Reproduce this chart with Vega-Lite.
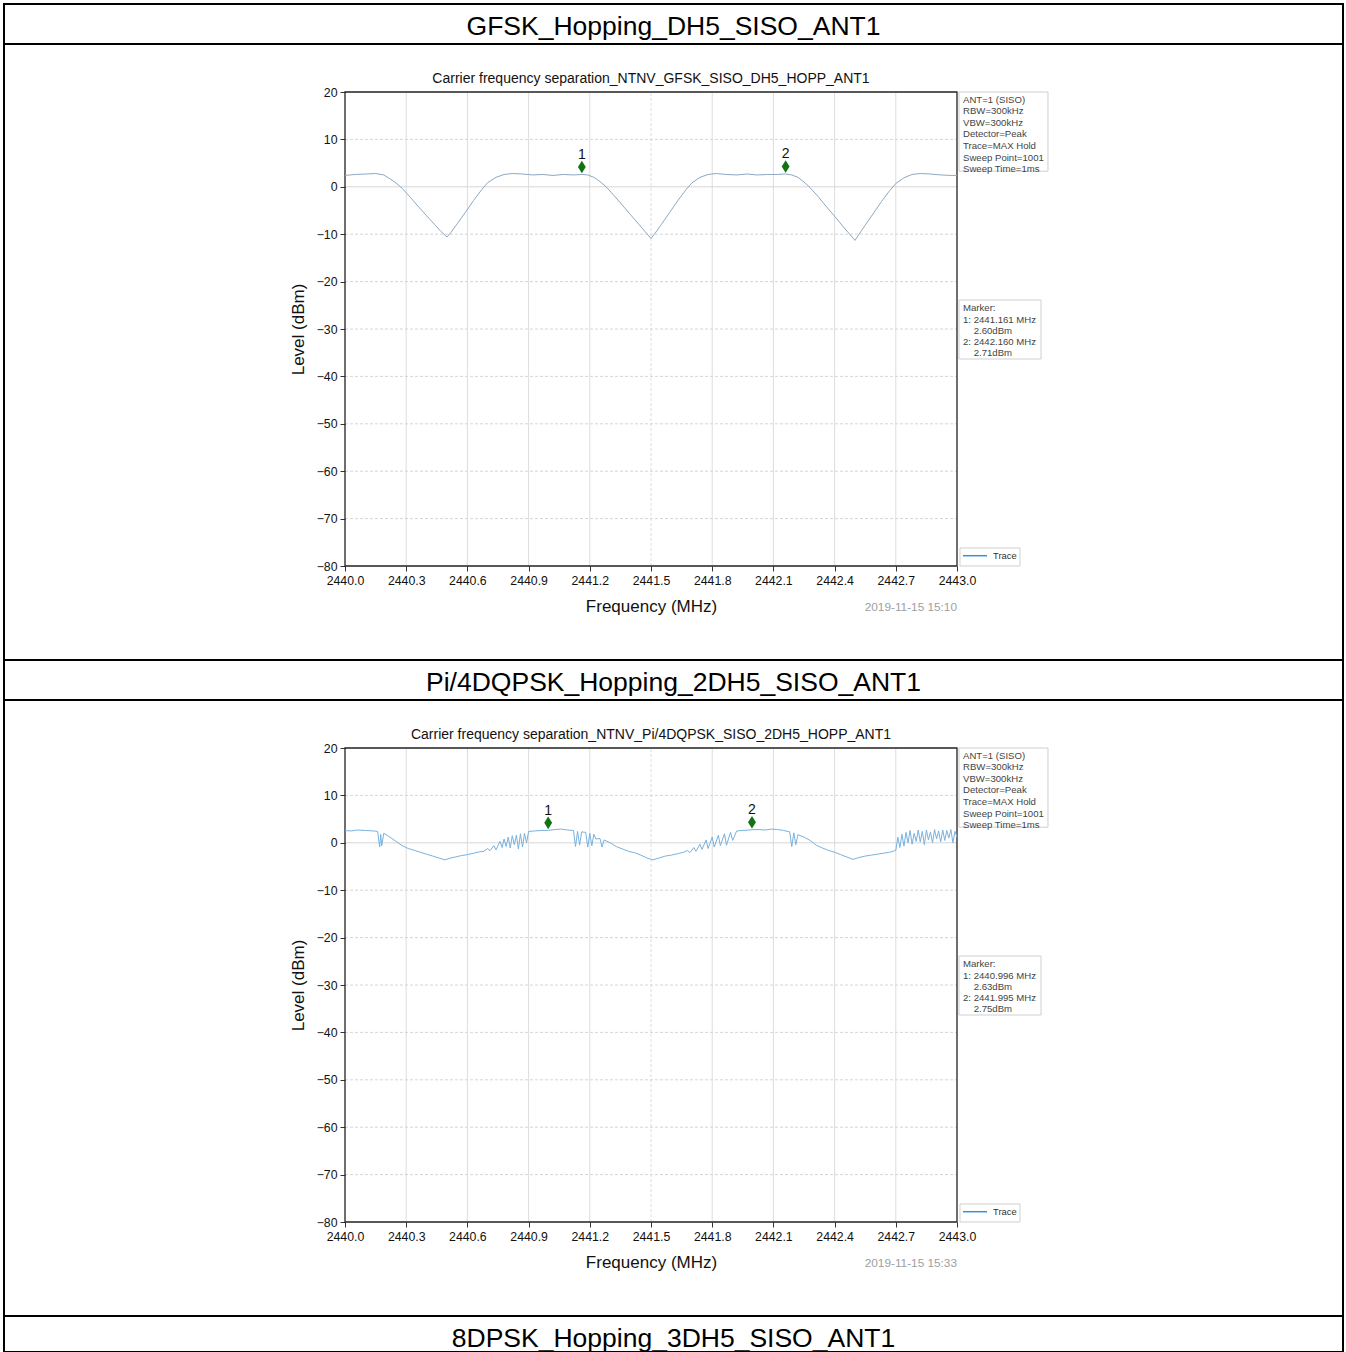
{
  "$schema": "https://vega.github.io/schema/vega-lite/v6.json",
  "background": "white",
  "padding": {"left": 3, "top": 3, "right": 0, "bottom": 0},
  "spacing": 0,
  "bounds": "flush",
  "config": {"view": {"stroke": null}, "font": "Liberation Sans"},
  "datasets": {
    "trace1": [
      {"f":2440.00,"level":2.4},{"f":2440.05,"level":2.6},{"f":2440.10,"level":2.7},{"f":2440.15,"level":2.8},{"f":2440.19,"level":2.5},
      {"f":2440.22,"level":1.7},{"f":2440.25,"level":0.8},{"f":2440.28,"level":-0.3},{"f":2440.32,"level":-2.2},{"f":2440.36,"level":-4.2},
      {"f":2440.40,"level":-6.1},{"f":2440.44,"level":-8.0},{"f":2440.47,"level":-9.4},{"f":2440.50,"level":-10.6},{"f":2440.52,"level":-9.6},
      {"f":2440.55,"level":-7.8},{"f":2440.59,"level":-5.4},{"f":2440.63,"level":-2.9},{"f":2440.67,"level":-0.6},{"f":2440.70,"level":0.9},
      {"f":2440.74,"level":2.0},{"f":2440.78,"level":2.6},{"f":2440.82,"level":2.8},{"f":2440.87,"level":2.7},{"f":2440.92,"level":2.5},
      {"f":2440.97,"level":2.6},{"f":2441.02,"level":2.4},{"f":2441.07,"level":2.6},{"f":2441.12,"level":2.5},{"f":2441.161,"level":2.6},
      {"f":2441.19,"level":2.5},{"f":2441.22,"level":2.0},{"f":2441.25,"level":1.1},{"f":2441.28,"level":0.0},{"f":2441.32,"level":-1.9},
      {"f":2441.36,"level":-3.9},{"f":2441.40,"level":-5.9},{"f":2441.44,"level":-7.9},{"f":2441.47,"level":-9.4},{"f":2441.50,"level":-10.9},
      {"f":2441.52,"level":-9.8},{"f":2441.55,"level":-8.0},{"f":2441.59,"level":-5.5},{"f":2441.63,"level":-3.0},{"f":2441.67,"level":-0.7},
      {"f":2441.70,"level":0.8},{"f":2441.74,"level":2.0},{"f":2441.78,"level":2.6},{"f":2441.82,"level":2.8},{"f":2441.87,"level":2.6},
      {"f":2441.92,"level":2.5},{"f":2441.97,"level":2.7},{"f":2442.02,"level":2.5},{"f":2442.07,"level":2.6},{"f":2442.12,"level":2.6},
      {"f":2442.16,"level":2.71},{"f":2442.19,"level":2.5},{"f":2442.22,"level":2.0},{"f":2442.25,"level":1.0},{"f":2442.28,"level":-0.2},
      {"f":2442.32,"level":-2.1},{"f":2442.36,"level":-4.2},{"f":2442.40,"level":-6.2},{"f":2442.44,"level":-8.3},{"f":2442.47,"level":-9.8},
      {"f":2442.50,"level":-11.3},{"f":2442.52,"level":-10.0},{"f":2442.55,"level":-8.1},{"f":2442.59,"level":-5.6},{"f":2442.63,"level":-3.1},
      {"f":2442.67,"level":-0.8},{"f":2442.70,"level":0.7},{"f":2442.74,"level":1.9},{"f":2442.78,"level":2.6},{"f":2442.82,"level":2.8},
      {"f":2442.87,"level":2.7},{"f":2442.92,"level":2.5},{"f":2442.97,"level":2.4},{"f":2443.00,"level":2.4}
    ],
    "trace2": [
      {"f":2440.00,"level":2.6},{"f":2440.03,"level":2.5},{"f":2440.06,"level":2.7},{"f":2440.10,"level":2.6},{"f":2440.14,"level":2.5},
      {"f":2440.16,"level":2.4},{"f":2440.17,"level":-0.9},{"f":2440.175,"level":1.8},{"f":2440.18,"level":-0.6},{"f":2440.19,"level":2.0},
      {"f":2440.21,"level":1.5},{"f":2440.23,"level":0.9},{"f":2440.25,"level":0.3},{"f":2440.28,"level":-0.6},{"f":2440.31,"level":-1.2},
      {"f":2440.34,"level":-1.6},{"f":2440.37,"level":-2.0},{"f":2440.40,"level":-2.4},{"f":2440.43,"level":-2.8},{"f":2440.46,"level":-3.2},
      {"f":2440.49,"level":-3.6},{"f":2440.51,"level":-3.3},{"f":2440.54,"level":-3.0},{"f":2440.57,"level":-2.7},{"f":2440.60,"level":-2.5},
      {"f":2440.63,"level":-2.2},{"f":2440.66,"level":-1.9},{"f":2440.68,"level":-1.8},{"f":2440.70,"level":-1.2},{"f":2440.71,"level":-1.7},
      {"f":2440.73,"level":-0.6},{"f":2440.74,"level":-1.5},{"f":2440.76,"level":0.3},{"f":2440.77,"level":-1.0},{"f":2440.78,"level":0.8},
      {"f":2440.79,"level":-0.8},{"f":2440.80,"level":1.2},{"f":2440.81,"level":-1.1},{"f":2440.82,"level":1.5},{"f":2440.83,"level":-0.4},
      {"f":2440.84,"level":1.6},{"f":2440.85,"level":-1.3},{"f":2440.86,"level":1.9},{"f":2440.87,"level":-0.9},{"f":2440.88,"level":2.0},
      {"f":2440.89,"level":0.0},{"f":2440.90,"level":2.4},{"f":2440.93,"level":2.5},{"f":2440.96,"level":2.6},{"f":2440.996,"level":2.63},
      {"f":2441.03,"level":2.8},{"f":2441.06,"level":2.9},{"f":2441.09,"level":2.7},{"f":2441.12,"level":2.6},{"f":2441.13,"level":-0.8},
      {"f":2441.14,"level":2.4},{"f":2441.15,"level":-0.5},{"f":2441.16,"level":2.3},{"f":2441.18,"level":2.2},{"f":2441.19,"level":-0.9},
      {"f":2441.20,"level":2.0},{"f":2441.21,"level":-0.6},{"f":2441.22,"level":1.8},{"f":2441.23,"level":0.8},{"f":2441.25,"level":0.9},
      {"f":2441.26,"level":-0.9},{"f":2441.27,"level":0.6},{"f":2441.30,"level":0.0},{"f":2441.33,"level":-0.8},{"f":2441.36,"level":-1.3},
      {"f":2441.39,"level":-1.8},{"f":2441.42,"level":-2.1},{"f":2441.45,"level":-2.6},{"f":2441.48,"level":-3.2},{"f":2441.51,"level":-3.6},
      {"f":2441.54,"level":-3.2},{"f":2441.57,"level":-2.8},{"f":2441.60,"level":-2.6},{"f":2441.63,"level":-2.3},{"f":2441.66,"level":-2.0},
      {"f":2441.68,"level":-1.6},{"f":2441.69,"level":-2.1},{"f":2441.71,"level":-1.0},{"f":2441.72,"level":-1.8},{"f":2441.74,"level":-0.3},
      {"f":2441.75,"level":-1.4},{"f":2441.77,"level":0.6},{"f":2441.78,"level":-1.2},{"f":2441.80,"level":1.2},{"f":2441.81,"level":-0.9},
      {"f":2441.83,"level":1.6},{"f":2441.84,"level":-0.6},{"f":2441.86,"level":1.9},{"f":2441.87,"level":-0.5},{"f":2441.89,"level":2.2},
      {"f":2441.90,"level":0.5},{"f":2441.92,"level":2.5},{"f":2441.95,"level":2.6},{"f":2441.995,"level":2.75},{"f":2442.03,"level":2.8},
      {"f":2442.06,"level":2.7},{"f":2442.09,"level":2.9},{"f":2442.12,"level":2.8},{"f":2442.15,"level":2.6},{"f":2442.18,"level":2.3},
      {"f":2442.19,"level":-0.8},{"f":2442.20,"level":2.1},{"f":2442.21,"level":-0.4},{"f":2442.22,"level":1.7},{"f":2442.25,"level":1.2},
      {"f":2442.28,"level":0.5},{"f":2442.31,"level":-0.5},{"f":2442.34,"level":-1.1},{"f":2442.37,"level":-1.6},{"f":2442.40,"level":-2.0},
      {"f":2442.43,"level":-2.5},{"f":2442.46,"level":-3.0},{"f":2442.49,"level":-3.5},{"f":2442.52,"level":-3.1},{"f":2442.55,"level":-2.8},
      {"f":2442.58,"level":-2.6},{"f":2442.61,"level":-2.4},{"f":2442.64,"level":-2.2},{"f":2442.67,"level":-2.0},{"f":2442.70,"level":-1.6},
      {"f":2442.71,"level":1.2},{"f":2442.72,"level":-1.0},{"f":2442.73,"level":1.8},{"f":2442.74,"level":-0.7},{"f":2442.75,"level":2.2},
      {"f":2442.76,"level":0.0},{"f":2442.77,"level":2.6},{"f":2442.78,"level":-0.3},{"f":2442.79,"level":2.0},{"f":2442.80,"level":0.3},
      {"f":2442.81,"level":2.7},{"f":2442.82,"level":0.2},{"f":2442.83,"level":2.4},{"f":2442.84,"level":-0.4},{"f":2442.85,"level":2.7},
      {"f":2442.86,"level":0.6},{"f":2442.87,"level":2.3},{"f":2442.88,"level":0.0},{"f":2442.89,"level":2.8},{"f":2442.90,"level":0.8},
      {"f":2442.91,"level":2.5},{"f":2442.92,"level":0.2},{"f":2442.93,"level":2.7},{"f":2442.94,"level":0.5},{"f":2442.95,"level":2.6},
      {"f":2442.96,"level":1.0},{"f":2442.97,"level":2.8},{"f":2442.98,"level":0.0},{"f":2442.99,"level":2.4},{"f":2443.00,"level":1.2}
    ],
    "markers1": [{"n":"1","f":2441.161,"level":2.60},{"n":"2","f":2442.160,"level":2.71}],
    "markers2": [{"n":"1","f":2440.996,"level":2.63},{"n":"2","f":2441.995,"level":2.75}],
    "xgrid": [{"f":2440.3},{"f":2440.6},{"f":2440.9},{"f":2441.2},{"f":2441.5},{"f":2441.8},{"f":2442.1},{"f":2442.4},{"f":2442.7}],
    "ygrid": [{"v":-70},{"v":-60},{"v":-50},{"v":-40},{"v":-30},{"v":-20},{"v":-10},{"v":0},{"v":10}]
  },
  "vconcat": [
    {
      "width": 1339, "height": 40,
      "view": {"stroke": "black", "strokeWidth": 2},
      "data": {"values": [{"t": "GFSK_Hopping_DH5_SISO_ANT1"}]},
      "mark": {"type": "text", "fontSize": 26.5, "fill": "black", "baseline": "middle", "dy": 2.5},
      "encoding": {"text": {"field": "t"}}
    },
    {
      "width": 1339, "height": 616,
      "view": {"stroke": "black", "strokeWidth": 2},
      "layer": [
        {
          "data": {"name": "xgrid"},
          "mark": {"type": "rule", "stroke": "#dddddd", "strokeWidth": 1},
          "encoding": {
            "x": {"field": "f", "type": "quantitative"},
            "y": {"datum": -80, "type": "quantitative"},
            "y2": {"datum": 20},
            "strokeDash": {"condition": {"test": "datum.f == 2441.5", "value": [3, 2]}, "value": [1, 0]}
          }
        },
        {
          "data": {"name": "ygrid"},
          "mark": {"type": "rule", "stroke": "#d6d6d6", "strokeWidth": 1},
          "encoding": {
            "y": {"field": "v", "type": "quantitative"},
            "x": {"datum": 2440, "type": "quantitative"},
            "x2": {"datum": 2443},
            "strokeDash": {"condition": {"test": "datum.v == 0", "value": [1, 0]}, "value": [3, 2]}
          }
        },
        {
          "data": {"values": [{}]},
          "mark": {"type": "rect", "fillOpacity": 0, "stroke": "#222222", "strokeWidth": 1.3},
          "encoding": {
            "x": {"datum": 2440, "type": "quantitative"},
            "x2": {"datum": 2443},
            "y": {"datum": -80, "type": "quantitative"},
            "y2": {"datum": 20}
          }
        },
        {
          "data": {"name": "trace1"},
          "mark": {"type": "line", "stroke": "#8ea8c2", "strokeWidth": 1},
          "encoding": {
            "x": {"field": "f", "type": "quantitative",
              "scale": {"domain": [2438.32843, 2444.89216], "nice": false, "zero": false},
              "axis": {"values": [2440, 2440.3, 2440.6, 2440.9, 2441.2, 2441.5, 2441.8, 2442.1, 2442.4, 2442.7, 2443],
                "format": ".1f", "offset": -94, "domain": false, "grid": false, "tickSize": 5, "tickColor": "#333333",
                "labelFontSize": 12.3, "labelColor": "#111111", "labelPadding": 3, "labelFlush": false, "labelOverlap": false,
                "title": "Frequency (MHz)", "titleFontSize": 17, "titleFontWeight": "normal", "titleColor": "#111111",
                "titleX": 647, "titleY": 40, "titleAlign": "center", "titleBaseline": "middle"}},
            "y": {"field": "level", "type": "quantitative",
              "scale": {"domain": [-99.8312, 30.1266], "nice": false, "zero": false},
              "axis": {"values": [-80, -70, -60, -50, -40, -30, -20, -10, 0, 10, 20],
                "format": "d", "labelExpr": "replace(datum.label, '-', '\u2212')", "offset": -341, "domain": false, "grid": false,
                "tickSize": 5, "tickColor": "#333333", "labelFontSize": 12.3, "labelColor": "#111111", "labelPadding": 3, "labelOverlap": false,
                "title": "Level (dBm)", "titleFontSize": 17, "titleFontWeight": "normal", "titleColor": "#111111",
                "titleAngle": 270, "titleX": -47, "titleY": 285, "titleAlign": "center", "titleBaseline": "middle"}}
          }
        },
        {
          "data": {"name": "markers1"},
          "mark": {"type": "point", "shape": "M0,-1L0.62,0L0,1L-0.62,0Z", "filled": true, "size": 160, "color": "#137313", "opacity": 1, "yOffset": -7.5},
          "encoding": {
            "x": {"field": "f", "type": "quantitative"},
            "y": {"field": "level", "type": "quantitative"}
          }
        },
        {
          "data": {"name": "markers1"},
          "mark": {"type": "text", "fontSize": 14, "fill": "#111111", "baseline": "middle", "yOffset": -19.5},
          "encoding": {
            "x": {"field": "f", "type": "quantitative"},
            "y": {"field": "level", "type": "quantitative"},
            "text": {"field": "n"}
          }
        },
        {
          "data": {"values": [{"t": "Carrier frequency separation_NTNV_GFSK_SISO_DH5_HOPP_ANT1"}]},
          "mark": {"type": "text", "fontSize": 14, "fill": "#111111", "baseline": "middle", "align": "center"},
          "encoding": {
            "x": {"datum": 2441.5, "type": "quantitative"},
            "y": {"datum": 22.74, "type": "quantitative"},
            "text": {"field": "t"}
          }
        },
        {
          "data": {"values": [{}]},
          "mark": {"type": "rect", "fill": "white", "stroke": "#cfcfcf", "strokeWidth": 1},
          "encoding": {
            "x": {"datum": 2443.0098, "type": "quantitative"}, "x2": {"datum": 2443.446},
            "y": {"datum": 20, "type": "quantitative"}, "y2": {"datum": 3.3}
          }
        },
        {
          "data": {"values": [{"t": "ANT=1 (SISO)\nRBW=300kHz\nVBW=300kHz\nDetector=Peak\nTrace=MAX Hold\nSweep Point=1001\nSweep Time=1ms"}]},
          "mark": {"type": "text", "fontSize": 9.6, "fill": "#444444", "align": "left", "baseline": "top", "lineBreak": "\n", "lineHeight": 11.57},
          "encoding": {
            "x": {"datum": 2443.0294, "type": "quantitative"},
            "y": {"datum": 19.41, "type": "quantitative"},
            "text": {"field": "t"}
          }
        },
        {
          "data": {"values": [{}]},
          "mark": {"type": "rect", "fill": "white", "stroke": "#cfcfcf", "strokeWidth": 1},
          "encoding": {
            "x": {"datum": 2443.0098, "type": "quantitative"}, "x2": {"datum": 2443.4118},
            "y": {"datum": -23.88, "type": "quantitative"}, "y2": {"datum": -36.33}
          }
        },
        {
          "data": {"values": [{"t": "Marker:\n1: 2441.161 MHz\n\u200b\u00a0\u00a0\u00a0\u00a02.60dBm\n2: 2442.160 MHz\n\u200b\u00a0\u00a0\u00a0\u00a02.71dBm"}]},
          "mark": {"type": "text", "fontSize": 9.6, "fill": "#444444", "align": "left", "baseline": "top", "lineBreak": "\n", "lineHeight": 11.25},
          "encoding": {
            "x": {"datum": 2443.0294, "type": "quantitative"},
            "y": {"datum": -24.58, "type": "quantitative"},
            "text": {"field": "t"}
          }
        },
        {
          "data": {"values": [{}]},
          "mark": {"type": "rect", "fill": "white", "stroke": "#cfcfcf", "strokeWidth": 1},
          "encoding": {
            "x": {"datum": 2443.0147, "type": "quantitative"}, "x2": {"datum": 2443.3088},
            "y": {"datum": -76.2, "type": "quantitative"}, "y2": {"datum": -80}
          }
        },
        {
          "data": {"values": [{}]},
          "mark": {"type": "rule", "stroke": "#3b8ede", "strokeWidth": 1.5},
          "encoding": {
            "x": {"datum": 2443.0294, "type": "quantitative"}, "x2": {"datum": 2443.1471},
            "y": {"datum": -77.83, "type": "quantitative"}
          }
        },
        {
          "data": {"values": [{"t": "Trace"}]},
          "mark": {"type": "text", "fontSize": 9.4, "fill": "#333333", "align": "left", "baseline": "middle"},
          "encoding": {
            "x": {"datum": 2443.1765, "type": "quantitative"},
            "y": {"datum": -77.83, "type": "quantitative"},
            "text": {"field": "t"}
          }
        },
        {
          "data": {"values": [{"t": "2019-11-15 15:10"}]},
          "mark": {"type": "text", "fontSize": 11.8, "fill": "#a0a0a0", "align": "right", "baseline": "middle"},
          "encoding": {
            "x": {"datum": 2443.0, "type": "quantitative"},
            "y": {"datum": -88.65, "type": "quantitative"},
            "text": {"field": "t"}
          }
        }
      ]
    },
    {
      "width": 1339, "height": 40,
      "view": {"stroke": "black", "strokeWidth": 2},
      "data": {"values": [{"t": "Pi/4DQPSK_Hopping_2DH5_SISO_ANT1"}]},
      "mark": {"type": "text", "fontSize": 26.5, "fill": "black", "baseline": "middle", "dy": 2.5},
      "encoding": {"text": {"field": "t"}}
    },
    {
      "width": 1339, "height": 616,
      "view": {"stroke": "black", "strokeWidth": 2},
      "layer": [
        {
          "data": {"name": "xgrid"},
          "mark": {"type": "rule", "stroke": "#dddddd", "strokeWidth": 1},
          "encoding": {
            "x": {"field": "f", "type": "quantitative"},
            "y": {"datum": -80, "type": "quantitative"},
            "y2": {"datum": 20},
            "strokeDash": {"condition": {"test": "datum.f == 2441.5", "value": [3, 2]}, "value": [1, 0]}
          }
        },
        {
          "data": {"name": "ygrid"},
          "mark": {"type": "rule", "stroke": "#d6d6d6", "strokeWidth": 1},
          "encoding": {
            "y": {"field": "v", "type": "quantitative"},
            "x": {"datum": 2440, "type": "quantitative"},
            "x2": {"datum": 2443},
            "strokeDash": {"condition": {"test": "datum.v == 0", "value": [1, 0]}, "value": [3, 2]}
          }
        },
        {
          "data": {"values": [{}]},
          "mark": {"type": "rect", "fillOpacity": 0, "stroke": "#222222", "strokeWidth": 1.3},
          "encoding": {
            "x": {"datum": 2440, "type": "quantitative"},
            "x2": {"datum": 2443},
            "y": {"datum": -80, "type": "quantitative"},
            "y2": {"datum": 20}
          }
        },
        {
          "data": {"name": "trace2"},
          "mark": {"type": "line", "stroke": "#78b2df", "strokeWidth": 1},
          "encoding": {
            "x": {"field": "f", "type": "quantitative",
              "scale": {"domain": [2438.32843, 2444.89216], "nice": false, "zero": false},
              "axis": {"values": [2440, 2440.3, 2440.6, 2440.9, 2441.2, 2441.5, 2441.8, 2442.1, 2442.4, 2442.7, 2443],
                "format": ".1f", "offset": -94, "domain": false, "grid": false, "tickSize": 5, "tickColor": "#333333",
                "labelFontSize": 12.3, "labelColor": "#111111", "labelPadding": 3, "labelFlush": false, "labelOverlap": false,
                "title": "Frequency (MHz)", "titleFontSize": 17, "titleFontWeight": "normal", "titleColor": "#111111",
                "titleX": 647, "titleY": 40, "titleAlign": "center", "titleBaseline": "middle"}},
            "y": {"field": "level", "type": "quantitative",
              "scale": {"domain": [-99.8312, 30.1266], "nice": false, "zero": false},
              "axis": {"values": [-80, -70, -60, -50, -40, -30, -20, -10, 0, 10, 20],
                "format": "d", "labelExpr": "replace(datum.label, '-', '\u2212')", "offset": -341, "domain": false, "grid": false,
                "tickSize": 5, "tickColor": "#333333", "labelFontSize": 12.3, "labelColor": "#111111", "labelPadding": 3, "labelOverlap": false,
                "title": "Level (dBm)", "titleFontSize": 17, "titleFontWeight": "normal", "titleColor": "#111111",
                "titleAngle": 270, "titleX": -47, "titleY": 285, "titleAlign": "center", "titleBaseline": "middle"}}
          }
        },
        {
          "data": {"name": "markers2"},
          "mark": {"type": "point", "shape": "M0,-1L0.62,0L0,1L-0.62,0Z", "filled": true, "size": 160, "color": "#137313", "opacity": 1, "yOffset": -7.5},
          "encoding": {
            "x": {"field": "f", "type": "quantitative"},
            "y": {"field": "level", "type": "quantitative"}
          }
        },
        {
          "data": {"name": "markers2"},
          "mark": {"type": "text", "fontSize": 14, "fill": "#111111", "baseline": "middle", "yOffset": -19.5},
          "encoding": {
            "x": {"field": "f", "type": "quantitative"},
            "y": {"field": "level", "type": "quantitative"},
            "text": {"field": "n"}
          }
        },
        {
          "data": {"values": [{"t": "Carrier frequency separation_NTNV_Pi/4DQPSK_SISO_2DH5_HOPP_ANT1"}]},
          "mark": {"type": "text", "fontSize": 14, "fill": "#111111", "baseline": "middle", "align": "center"},
          "encoding": {
            "x": {"datum": 2441.5, "type": "quantitative"},
            "y": {"datum": 22.74, "type": "quantitative"},
            "text": {"field": "t"}
          }
        },
        {
          "data": {"values": [{}]},
          "mark": {"type": "rect", "fill": "white", "stroke": "#cfcfcf", "strokeWidth": 1},
          "encoding": {
            "x": {"datum": 2443.0098, "type": "quantitative"}, "x2": {"datum": 2443.446},
            "y": {"datum": 20, "type": "quantitative"}, "y2": {"datum": 3.3}
          }
        },
        {
          "data": {"values": [{"t": "ANT=1 (SISO)\nRBW=300kHz\nVBW=300kHz\nDetector=Peak\nTrace=MAX Hold\nSweep Point=1001\nSweep Time=1ms"}]},
          "mark": {"type": "text", "fontSize": 9.6, "fill": "#444444", "align": "left", "baseline": "top", "lineBreak": "\n", "lineHeight": 11.57},
          "encoding": {
            "x": {"datum": 2443.0294, "type": "quantitative"},
            "y": {"datum": 19.41, "type": "quantitative"},
            "text": {"field": "t"}
          }
        },
        {
          "data": {"values": [{}]},
          "mark": {"type": "rect", "fill": "white", "stroke": "#cfcfcf", "strokeWidth": 1},
          "encoding": {
            "x": {"datum": 2443.0098, "type": "quantitative"}, "x2": {"datum": 2443.4118},
            "y": {"datum": -23.88, "type": "quantitative"}, "y2": {"datum": -36.33}
          }
        },
        {
          "data": {"values": [{"t": "Marker:\n1: 2440.996 MHz\n\u200b\u00a0\u00a0\u00a0\u00a02.63dBm\n2: 2441.995 MHz\n\u200b\u00a0\u00a0\u00a0\u00a02.75dBm"}]},
          "mark": {"type": "text", "fontSize": 9.6, "fill": "#444444", "align": "left", "baseline": "top", "lineBreak": "\n", "lineHeight": 11.25},
          "encoding": {
            "x": {"datum": 2443.0294, "type": "quantitative"},
            "y": {"datum": -24.58, "type": "quantitative"},
            "text": {"field": "t"}
          }
        },
        {
          "data": {"values": [{}]},
          "mark": {"type": "rect", "fill": "white", "stroke": "#cfcfcf", "strokeWidth": 1},
          "encoding": {
            "x": {"datum": 2443.0147, "type": "quantitative"}, "x2": {"datum": 2443.3088},
            "y": {"datum": -76.2, "type": "quantitative"}, "y2": {"datum": -80}
          }
        },
        {
          "data": {"values": [{}]},
          "mark": {"type": "rule", "stroke": "#3b8ede", "strokeWidth": 1.5},
          "encoding": {
            "x": {"datum": 2443.0294, "type": "quantitative"}, "x2": {"datum": 2443.1471},
            "y": {"datum": -77.83, "type": "quantitative"}
          }
        },
        {
          "data": {"values": [{"t": "Trace"}]},
          "mark": {"type": "text", "fontSize": 9.4, "fill": "#333333", "align": "left", "baseline": "middle"},
          "encoding": {
            "x": {"datum": 2443.1765, "type": "quantitative"},
            "y": {"datum": -77.83, "type": "quantitative"},
            "text": {"field": "t"}
          }
        },
        {
          "data": {"values": [{"t": "2019-11-15 15:33"}]},
          "mark": {"type": "text", "fontSize": 11.8, "fill": "#a0a0a0", "align": "right", "baseline": "middle"},
          "encoding": {
            "x": {"datum": 2443.0, "type": "quantitative"},
            "y": {"datum": -88.65, "type": "quantitative"},
            "text": {"field": "t"}
          }
        }
      ]
    },
    {
      "width": 1339, "height": 36,
      "view": {"stroke": "black", "strokeWidth": 2},
      "data": {"values": [{"t": "8DPSK_Hopping_3DH5_SISO_ANT1"}]},
      "mark": {"type": "text", "fontSize": 26.5, "fill": "black", "baseline": "middle", "dy": 4.5},
      "encoding": {"text": {"field": "t"}}
    }
  ]
}
